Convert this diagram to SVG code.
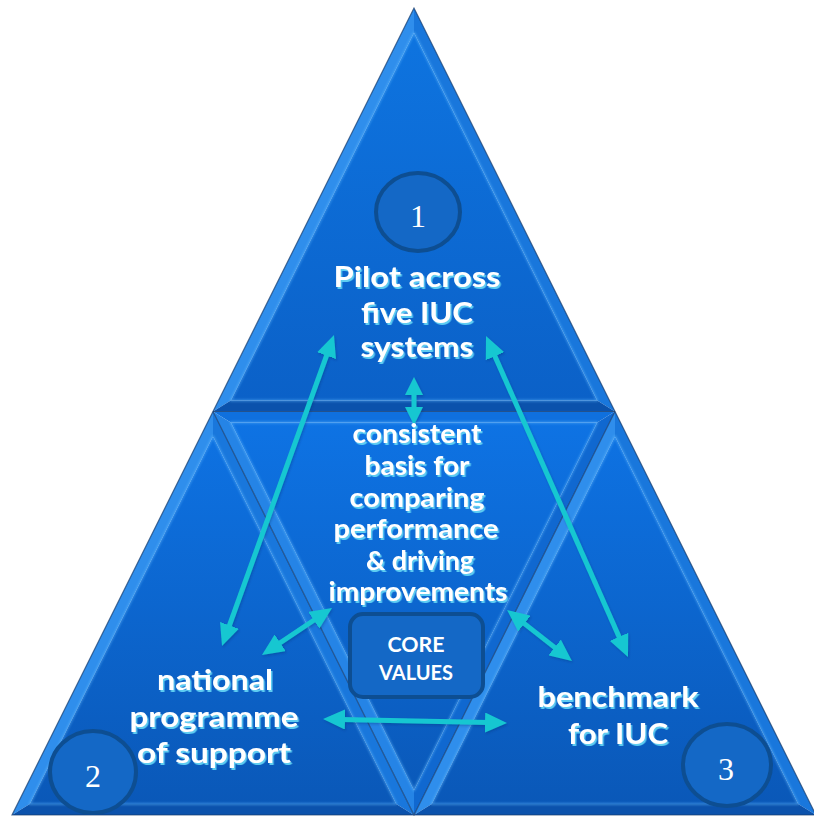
<svg xmlns="http://www.w3.org/2000/svg" width="814" height="817" viewBox="0 0 814 817">
  <style>
    .lbl { font-family: Lato, "Open Sans", "Liberation Sans", sans-serif; font-weight: 700; fill: #ffffff; text-anchor: middle; filter: url(#txtShadow); }
    .big { font-size: 28px; }
    .mid { font-size: 26px; }
    .core { font-family: Lato, "Open Sans", "Liberation Sans", sans-serif; font-weight: 700; font-size: 20px; fill: #ffffff; text-anchor: middle; }
    .num { font-family: "Liberation Serif", "DejaVu Serif", serif; font-size: 32px; fill: #ffffff; text-anchor: middle; }
    .badge { fill: #1468c6; stroke: #0d4e92; stroke-width: 4; }
    .lit { fill: #2f8eec; }
    .side { fill: #1977dc; }
    .dark { fill: #0b52ac; }
    .itop { fill: #0f70de; }
    .ileft { fill: #2584e6; }
    .iright { fill: #1068d0; }
    .ridge { fill: none; stroke: #62bbff; stroke-width: 2; stroke-opacity: 0.5; stroke-linejoin: round; }
    .seam { fill: none; stroke: #15396a; stroke-width: 1.2; stroke-opacity: 0.7; }
    .arrow { fill: none; stroke: #18c7d1; stroke-width: 5; marker-start: url(#head); marker-end: url(#head); }
    .arrow.small { marker-start: url(#headS); marker-end: url(#headS); }
  </style>
  <defs>
    <linearGradient id="topFill" gradientUnits="userSpaceOnUse" x1="0" y1="30" x2="0" y2="400">
      <stop offset="0" stop-color="#0e74e0"/>
      <stop offset="1" stop-color="#0b61c8"/>
    </linearGradient>
    <linearGradient id="lowFill" gradientUnits="userSpaceOnUse" x1="0" y1="420" x2="0" y2="805">
      <stop offset="0" stop-color="#0e73e4"/>
      <stop offset="1" stop-color="#0a58b8"/>
    </linearGradient>
    <filter id="txtShadow" x="-10%" y="-20%" width="125%" height="150%">
      <feDropShadow dx="1.5" dy="2" stdDeviation="0.7" flood-color="#62d2f4" flood-opacity="0.95"/>
    </filter>
    <filter id="soft" x="-5%" y="-5%" width="110%" height="110%">
      <feGaussianBlur stdDeviation="0.8"/>
    </filter>
    <filter id="arrowShadow" x="-10%" y="-10%" width="120%" height="120%">
      <feDropShadow dx="1" dy="1.5" stdDeviation="1" flood-color="#06306a" flood-opacity="0.3"/>
    </filter>
    <marker id="head" markerUnits="userSpaceOnUse" viewBox="0 0 22 20" markerWidth="22" markerHeight="20" refX="4" refY="10" orient="auto-start-reverse">
      <path d="M0,0 L22,10 L0,20 z" fill="#18c7d1"/>
    </marker>
    <marker id="headS" markerUnits="userSpaceOnUse" viewBox="0 0 18 18" markerWidth="18" markerHeight="18" refX="3" refY="9" orient="auto-start-reverse">
      <path d="M0,0 L18,9 L0,18 z" fill="#18c7d1"/>
    </marker>
  </defs>

  <rect width="814" height="817" fill="#ffffff"/>

  <!-- bevelled pyramid: four sub-triangles -->
  <g id="pyramid">
    <g id="tri-top">
      <polygon class="lit" points="414,8 213,411.5 230.8,400.5 414,32.7"/>
      <polygon class="side" points="414,8 615,411.5 597.2,400.5 414,32.7"/>
      <polygon class="dark" points="213,411.5 615,411.5 597.2,400.5 230.8,400.5"/>
      <polygon fill="url(#topFill)" points="414,32.7 230.8,400.5 597.2,400.5"/>
      <polygon class="ridge" filter="url(#soft)" points="414,32.7 230.8,400.5 597.2,400.5"/>
    </g>
    <g id="tri-left">
      <polygon class="lit" points="213,411.5 12,815 29.8,804 213,436.2"/>
      <polygon class="side" points="213,411.5 414,815 396.2,804 213,436.2"/>
      <polygon class="dark" points="12,815 414,815 396.2,804 29.8,804"/>
      <polygon fill="url(#lowFill)" points="213,436.2 29.8,804 396.2,804"/>
      <polygon class="ridge" filter="url(#soft)" points="213,436.2 29.8,804 396.2,804"/>
    </g>
    <g id="tri-right">
      <polygon class="lit" points="615,411.5 414,815 431.8,804 615,436.2"/>
      <polygon class="side" points="615,411.5 816,815 798.2,804 615,436.2"/>
      <polygon class="dark" points="414,815 816,815 798.2,804 431.8,804"/>
      <polygon fill="url(#lowFill)" points="615,436.2 431.8,804 798.2,804"/>
      <polygon class="ridge" filter="url(#soft)" points="615,436.2 431.8,804 798.2,804"/>
    </g>
    <g id="tri-middle">
      <polygon class="itop" points="213,411.5 615,411.5 597.2,422.5 230.8,422.5"/>
      <polygon class="ileft" points="213,411.5 414,815 414,790.3 230.8,422.5"/>
      <polygon class="iright" points="615,411.5 414,815 414,790.3 597.2,422.5"/>
      <polygon fill="url(#lowFill)" points="230.8,422.5 597.2,422.5 414,790.3"/>
      <polygon class="ridge" filter="url(#soft)" points="230.8,422.5 597.2,422.5 414,790.3"/>
    </g>
    <!-- seams between faces and outer rim -->
    <polyline class="seam" points="213,411.5 615,411.5"/>
    <polyline class="seam" points="213,411.5 414,815 615,411.5"/>
    <polygon class="seam" points="414,8 12,815 816,815"/>
  </g>

  <!-- connectors -->
  <g id="connectors" filter="url(#arrowShadow)">
    <line class="arrow" x1="327.9" y1="351.9" x2="228.1" y2="629.1"/>
    <line class="arrow" x1="493.3" y1="352.5" x2="620.7" y2="640.5"/>
    <line class="arrow small" x1="414" y1="392" x2="414" y2="410"/>
    <line class="arrow" x1="317.1" y1="618" x2="276.9" y2="645"/>
    <line class="arrow" x1="521.2" y1="621.1" x2="557.8" y2="649.9"/>
    <line class="arrow" x1="341" y1="719.4" x2="489" y2="722.6"/>
  </g>

  <g id="node-1">
    <ellipse class="badge" cx="418" cy="212" rx="42" ry="39"/>
    <text class="num" x="418" y="227">1</text>
    <text class="lbl big" x="417" y="287" textLength="167" lengthAdjust="spacingAndGlyphs">Pilot across</text>
    <text class="lbl big" x="417" y="323" textLength="112" lengthAdjust="spacingAndGlyphs">five IUC</text>
    <text class="lbl big" x="417" y="357" textLength="113" lengthAdjust="spacingAndGlyphs">systems</text>
  </g>

  <g id="node-core">
    <text class="lbl mid" x="417" y="443" textLength="129" lengthAdjust="spacingAndGlyphs">consistent</text>
    <text class="lbl mid" x="417" y="475" textLength="105" lengthAdjust="spacingAndGlyphs">basis for</text>
    <text class="lbl mid" x="417" y="507" textLength="135" lengthAdjust="spacingAndGlyphs">comparing</text>
    <text class="lbl mid" x="416" y="538" textLength="165" lengthAdjust="spacingAndGlyphs">performance</text>
    <text class="lbl mid" x="420" y="570" textLength="108" lengthAdjust="spacingAndGlyphs">&amp; driving</text>
    <text class="lbl mid" x="418" y="601" textLength="179" lengthAdjust="spacingAndGlyphs">improvements</text>
    <rect class="badge" x="350" y="614" width="133" height="83" rx="13"/>
    <text class="core" x="416" y="652" textLength="57" lengthAdjust="spacingAndGlyphs">CORE</text>
    <text class="core" x="416" y="680" textLength="74" lengthAdjust="spacingAndGlyphs">VALUES</text>
  </g>

  <g id="node-2">
    <ellipse class="badge" cx="93" cy="772" rx="43" ry="41"/>
    <text class="num" x="93" y="787">2</text>
    <text class="lbl big" x="215" y="690" textLength="116" lengthAdjust="spacingAndGlyphs">national</text>
    <text class="lbl big" x="214" y="727" textLength="169" lengthAdjust="spacingAndGlyphs">programme</text>
    <text class="lbl big" x="214" y="763" textLength="154" lengthAdjust="spacingAndGlyphs">of support</text>
  </g>

  <g id="node-3">
    <ellipse class="badge" cx="727" cy="765" rx="44" ry="41"/>
    <text class="num" x="726" y="780">3</text>
    <text class="lbl big" x="618" y="707" textLength="161" lengthAdjust="spacingAndGlyphs">benchmark</text>
    <text class="lbl big" x="618" y="744" textLength="100" lengthAdjust="spacingAndGlyphs">for IUC</text>
  </g>
</svg>
